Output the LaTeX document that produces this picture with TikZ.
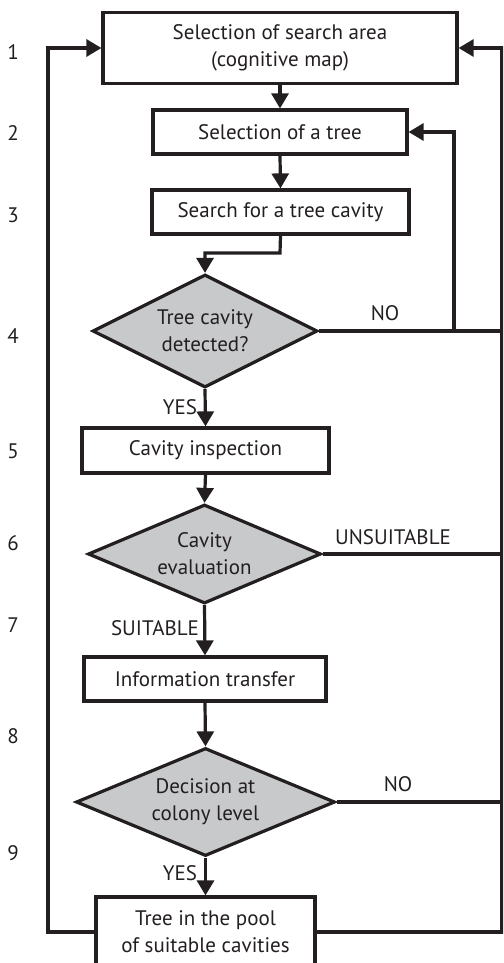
\documentclass[tikz,border=0pt]{standalone}
\usepackage{fontspec}
\setmainfont{PT Sans}
\usetikzlibrary{shapes.geometric,arrows.meta}
\definecolor{ink}{RGB}{35,31,32}
\definecolor{dfill}{RGB}{200,201,203}
\tikzset{
  txt/.style={font=\fontsize{21}{27}\selectfont, text=ink},
  stepbox/.style={txt, draw=ink, line width=3.2pt, fill=white, inner sep=0pt, align=center},
  decbox/.style={txt, draw=ink, line width=3.2pt, fill=dfill, diamond, aspect=2.3, inner sep=0pt, align=center},
  conn/.style={draw=ink, line width=3.2pt},
  arr/.style={conn, -{Triangle[width=17pt,length=15pt]}},
  lbl/.style={txt, inner sep=0pt},
}
\begin{document}
\begin{tikzpicture}[x=1pt,y=-1pt]
\useasboundingbox (0,0) rectangle (503,963);
\clip (0,0) rectangle (503,963);
% boxes
\node[stepbox, minimum width=354pt, minimum height=71pt] (b1) at (280,48) {Selection of search area\\(cognitive map)};
\node[stepbox, minimum width=254pt, minimum height=44pt] (b2) at (280,132) {Selection of a tree};
\node[stepbox, minimum width=257pt, minimum height=44pt] (b3) at (280.5,212) {Search for a tree cavity};
\node[decbox, minimum width=225pt, minimum height=113pt] (d1) at (205,331) {Tree cavity\\detected?};
\node[stepbox, minimum width=247pt, minimum height=45pt] (b5) at (205.5,450.5) {Cavity inspection};
\node[decbox, minimum width=233pt, minimum height=99pt] (d2) at (204.5,554) {Cavity\\evaluation};
\node[stepbox, minimum width=242pt, minimum height=44pt] (b7) at (205,679) {Information transfer};
\node[decbox, minimum width=259pt, minimum height=108pt] (d3) at (205.5,802) {Decision at\\colony level};
\node[stepbox, minimum width=219pt, minimum height=70pt] (b9) at (205.5,932) {Tree in the pool\\of suitable cavities};
% step numbers
\foreach \n/\yy in {1/52,2/133,3/215,4/336,5/451,6/543,7/625,8/736,9/853}
  \node[lbl] (n\n) at (13,\yy) {\n};
% coordinates
\coordinate (k3) at (280,253);
\coordinate (k3b) at (205,253);
\coordinate (j1) at (454,331);
\coordinate (j1t) at (454,132);
\coordinate (r1) at (502,331);
\coordinate (r2) at (502,554);
\coordinate (r3) at (502,802);
\coordinate (rb) at (502,932);
\coordinate (rt) at (502,48);
\coordinate (lb) at (48,932);
\coordinate (lt) at (48,48);
% connectors
\draw[arr] (b1.south) -- (b2.north);
\draw[arr] (b2.south) -- (b3.north);
\draw[arr] (b3.south) -- (k3) -- (k3b) -- (d1.north);
\draw[conn] (d1.east) -- (r1);
\draw[arr] (j1) -- (j1t) -- (b2.east);
\draw[arr] (d1.south) -- (b5.north);
\draw[arr] (b5.south) -- (d2.north);
\draw[conn] (d2.east) -- (r2);
\draw[arr] (d2.south) -- (b7.north);
\draw[arr] (b7.south) -- (d3.north);
\draw[conn] (d3.east) -- (r3);
\draw[arr] (d3.south) -- (b9.north);
\draw[arr] (b9.east) -- (rb) -- (rt) -- (b1.east);
\draw[arr] (b9.west) -- (lb) -- (lt) -- (b1.west);
% labels
\node[lbl] (no1) at (385,313) {NO};
\node[lbl] (yes1) at (180,407) {YES};
\node[lbl] (uns) at (393,537) {UNSUITABLE};
\node[lbl] (sui) at (155,628) {SUITABLE};
\node[lbl] (no2) at (398,784) {NO};
\node[lbl] (yes2) at (180,873) {YES};
\end{tikzpicture}
\end{document}
